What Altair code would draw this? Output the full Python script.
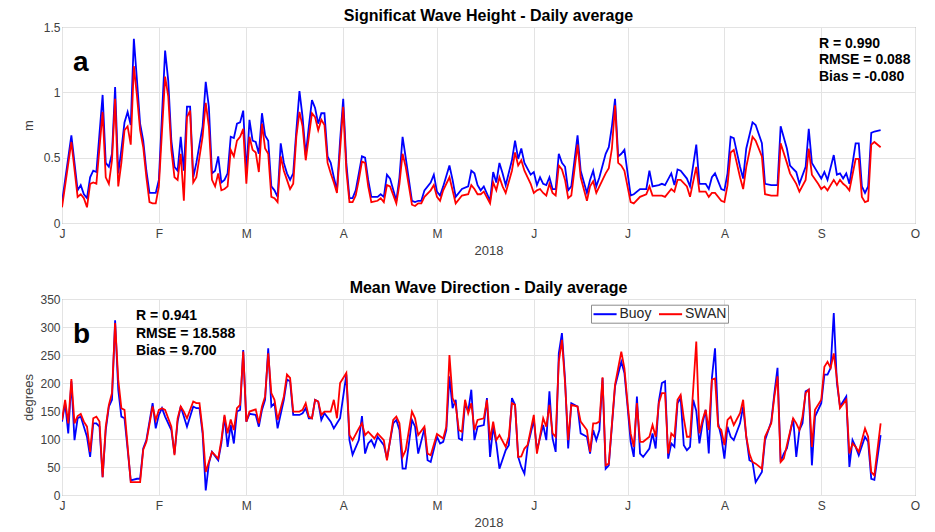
import altair as alt
import pandas as pd

# ---------------- data ----------------
# day offset from 2018-01-01
hs_day = [0,3,5,6,7,8,9,10,11,13,14,15,16,17,18,19,20,21,22,23,24,25,26,27,28,29,30,31,33,34,35,36,37,38,39,40,41,42,43,45,46,47,48,49,50,51,52,53,54,55,56,57,58,59,60,61,62,63,64,65,66,67,68,69,70,71,72,73,74,75,76,77,78,79,80,81,82,83,84,85,86,87,88,89,90,91,92,93,94,95,96,97,98,99,101,102,103,104,105,107,108,109,110,112,113,114,115,116,118,119,120,121,122,124,125,126,128,130,131,132,133,134,135,137,138,139,140,141,142,144,145,146,147,148,150,151,152,153,154,155,156,157,158,159,160,161,162,163,165,166,168,169,170,171,172,174,175,176,177,178,179,180,182,183,185,187,188,189,191,192,193,195,196,197,198,200,201,203,204,206,207,208,209,211,212,213,214,215,217,218,219,221,222,224,225,227,229,230,232,233,235,236,238,239,240,242,243,244,245,247,248,249,250,251,252,254,255,256,257,258,259,260,262]
hs_buoy = [.16,.67,.25,.29,.22,.19,.35,.40,.39,.98,.46,.43,.53,1.04,.38,.56,.77,.85,.75,1.41,1.09,.76,.63,.40,.23,.23,.23,.33,1.32,1.09,.63,.43,.40,.66,.40,.89,.89,.35,.46,.74,1.08,.89,.38,.40,.51,.31,.33,.38,.66,.65,.76,.77,.86,.38,.79,.63,.62,.53,.84,.67,.63,.28,.25,.20,.61,.46,.38,.33,.38,.71,1.01,.81,.52,.74,.94,.88,.76,.84,.84,.51,.46,.35,.25,.63,.95,.46,.19,.19,.25,.38,.51,.50,.33,.20,.20,.22,.20,.37,.34,.17,.35,.66,.50,.17,.16,.17,.17,.25,.31,.37,.24,.21,.28,.44,.33,.20,.26,.28,.40,.38,.29,.25,.28,.17,.39,.31,.46,.38,.29,.48,.63,.49,.57,.46,.37,.39,.29,.35,.30,.29,.35,.26,.26,.53,.46,.43,.25,.28,.67,.40,.23,.33,.40,.28,.35,.53,.58,.74,.95,.51,.53,.56,.21,.22,.26,.26,.40,.28,.29,.30,.29,.38,.29,.41,.40,.34,.28,.60,.30,.30,.26,.35,.38,.26,.25,.38,.66,.65,.43,.34,.57,.77,.75,.61,.30,.29,.29,.74,.57,.44,.39,.30,.43,.72,.46,.38,.34,.39,.33,.52,.37,.38,.34,.38,.30,.61,.61,.28,.23,.28,.69,.70,.71]
hs_swan = [.12,.62,.20,.22,.19,.12,.30,.31,.30,.85,.35,.30,.48,.95,.28,.46,.71,.74,.60,1.20,.97,.71,.58,.35,.16,.15,.15,.28,1.12,.97,.56,.35,.33,.53,.17,.81,.86,.31,.35,.66,.92,.74,.33,.28,.38,.25,.26,.28,.56,.51,.63,.66,.72,.30,.66,.56,.54,.39,.76,.57,.53,.20,.19,.16,.51,.40,.33,.26,.30,.66,.85,.74,.48,.66,.84,.81,.71,.79,.75,.46,.38,.31,.23,.56,.89,.40,.16,.16,.21,.33,.47,.46,.28,.16,.17,.19,.16,.29,.28,.15,.30,.53,.43,.14,.13,.15,.15,.20,.25,.29,.20,.17,.25,.35,.25,.15,.21,.22,.29,.26,.22,.22,.24,.15,.31,.25,.35,.28,.23,.40,.54,.44,.48,.40,.30,.23,.25,.26,.23,.21,.30,.23,.21,.44,.41,.33,.19,.21,.60,.35,.17,.28,.32,.23,.28,.38,.42,.57,.90,.46,.44,.40,.16,.15,.20,.22,.28,.21,.21,.21,.20,.26,.24,.33,.33,.28,.20,.43,.24,.24,.20,.23,.23,.17,.16,.29,.54,.56,.35,.26,.43,.66,.63,.51,.22,.21,.21,.61,.46,.38,.30,.24,.33,.57,.37,.30,.26,.28,.25,.33,.29,.33,.30,.28,.25,.49,.49,.20,.16,.17,.60,.62,.58]

dir_day = [0,1,2,3,4,5,6,7,8,9,10,11,12,13,14,15,16,17,18,19,20,22,24,25,26,27,29,30,31,32,33,35,36,37,38,39,40,42,43,44,45,46,47,48,50,51,52,53,54,55,56,57,58,59,60,62,63,64,65,66,67,68,69,71,72,73,74,76,77,78,79,80,81,82,83,84,86,87,88,89,91,92,93,95,96,97,98,99,100,101,103,104,106,107,108,109,110,112,113,114,116,117,118,120,121,122,123,124,125,126,127,128,129,130,131,132,133,135,136,137,138,139,140,142,143,144,145,146,147,148,149,151,152,154,155,156,157,158,159,160,161,162,163,165,166,168,169,170,171,172,173,174,175,177,179,180,181,182,183,184,185,186,188,189,190,191,192,193,194,195,196,197,198,199,200,201,202,203,204,205,206,207,208,209,210,211,212,213,214,215,217,218,219,220,221,222,224,225,227,228,229,230,231,232,234,235,236,237,238,239,240,241,243,244,245,246,247,248,249,251,252,253,254,255,257,258,259,260,262]
dir_buoy = [131,164,110,203,98,137,140,122,104,68,128,128,122,32,116,158,170,312,188,140,137,26,29,29,83,98,164,119,143,155,140,116,74,131,158,140,122,158,155,155,110,8,56,77,62,92,140,86,125,92,149,152,259,131,145,143,122,152,170,262,158,164,119,170,206,203,143,143,146,155,137,137,170,167,134,146,131,119,128,137,215,98,72,98,141,74,92,98,86,104,89,65,128,134,116,47,47,134,122,74,119,62,59,104,92,95,116,212,155,170,101,98,164,149,188,98,122,125,173,68,122,92,47,80,89,173,161,68,50,38,86,134,80,125,98,185,101,77,253,289,206,83,164,158,110,104,74,116,98,116,209,47,53,194,238,218,158,95,68,176,74,68,83,110,83,167,200,203,65,92,86,164,173,89,80,86,170,150,92,128,152,74,209,262,128,104,65,122,104,98,128,158,104,62,59,23,41,98,131,182,227,59,74,83,137,68,116,128,185,188,53,140,164,215,215,227,325,200,158,176,50,98,86,71,104,95,29,27,107]
dir_swan = [134,170,128,207,128,141,145,131,122,77,137,140,131,32,122,161,182,307,206,155,152,23,23,23,81,95,158,134,152,155,152,122,71,137,158,149,137,167,164,164,116,41,59,77,65,98,143,110,135,116,155,161,256,131,149,153,128,158,176,253,182,170,134,176,215,209,149,149,152,164,140,137,170,167,143,149,149,170,137,200,218,107,98,119,128,107,113,107,101,110,98,62,134,140,128,68,80,149,137,107,122,74,71,109,105,101,122,250,173,161,116,113,170,146,164,116,134,137,170,98,131,98,107,86,104,164,161,68,69,83,89,143,74,137,122,161,110,104,238,277,200,98,161,158,131,116,77,128,128,131,210,53,56,197,256,226,164,110,86,164,95,95,104,125,104,164,182,182,74,110,104,170,179,137,104,104,188,274,110,134,152,116,206,208,122,116,89,134,140,125,146,170,104,74,59,56,47,104,128,176,212,59,65,89,137,128,116,140,182,188,86,152,170,229,238,227,253,208,155,170,74,92,86,77,119,104,41,35,128]

series_names = ["Buoy", "SWAN"]
series_colors = ["#0000ff", "#ff0000"]
month_days = [0, 31, 59, 90, 120, 151, 181, 212, 243, 273]
month_letters = ["J", "F", "M", "A", "M", "J", "J", "A", "S", "O"]
hs_ticks = [0, 0.5, 1, 1.5]
dir_ticks = [0, 50, 100, 150, 200, 250, 300, 350]
stats_a = ["R = 0.990", "RMSE = 0.088", "Bias = -0.080"]
stats_b = ["R = 0.941", "RMSE = 18.588", "Bias = 9.700"]

for a, b in [(hs_day, hs_buoy), (hs_day, hs_swan), (dir_day, dir_buoy), (dir_day, dir_swan)]:
    if len(a) != len(b):
        raise ValueError(f"length mismatch {len(a)} vs {len(b)}")


def long_df(days, buoy, swan):
    return pd.DataFrame({
        "day": list(days) + list(days),
        "value": list(buoy) + list(swan),
        "series": ["Buoy"] * len(days) + ["SWAN"] * len(days),
    })


hs_df = long_df(hs_day, hs_buoy, hs_swan)
dir_df = long_df(dir_day, dir_buoy, dir_swan)

FONT = "Liberation Sans"
label_expr = ("[" + ",".join(f"'{m}'" for m in month_letters) + "][indexof(["
              + ",".join(str(d) for d in month_days) + "], datum.value)]")

W, H = 853, 196


def panel(df, ydom, yticks, ytitle, title, letter, stats, stats_x, stats_y, stats_lh, legend):
    x = alt.X("day:Q",
              scale=alt.Scale(domain=[0, 273], nice=False, zero=False),
              axis=alt.Axis(values=month_days, labelExpr=label_expr, title="2018",
                            labelPadding=5, titlePadding=5, labelFlush=False))
    y = alt.Y("value:Q",
              scale=alt.Scale(domain=ydom, nice=False, zero=True),
              axis=alt.Axis(values=yticks, format=".4~g", title=ytitle,
                            minExtent=25, maxExtent=25, titlePadding=2))
    color = alt.Color("series:N",
                      scale=alt.Scale(domain=series_names, range=series_colors),
                      legend=legend)
    lines = alt.Chart(df).mark_line(strokeWidth=1.8, clip=True).encode(x=x, y=y, color=color)
    st = alt.Chart(alt.Data(values=[{}])).mark_text(
        text=stats, font=FONT, fontSize=14, fontWeight="bold", align="left",
        baseline="middle", lineHeight=stats_lh, color="black"
    ).encode(x=alt.value(stats_x), y=alt.value(stats_y))
    lt = alt.Chart(alt.Data(values=[{}])).mark_text(
        text=letter, font=FONT, fontSize=28, fontWeight="bold", align="left",
        baseline="alphabetic", color="black"
    ).encode(x=alt.value(11), y=alt.value(44))
    return alt.layer(lines, st, lt).properties(
        width=W, height=H,
        title=alt.TitleParams(title, font=FONT, fontSize=16, fontWeight="bold",
                              color="black", offset=-3))


top = panel(hs_df, [0, 1.5], hs_ticks, "m", "Significat Wave Height - Daily average",
            "a", stats_a, 757, 16.7, 16.8, None)

legend_b = alt.Legend(title=None, orient="none", legendX=529, legendY=5.7,
                      direction="horizontal", symbolType="M-1,0H2.3", symbolSize=196,
                      symbolStrokeWidth=2, labelFontSize=14, labelFont=FONT,
                      labelColor="#262626", strokeColor="#8c8c8c", fillColor="white",
                      padding=1.5, labelOffset=11, columnPadding=3.5)

bottom = panel(dir_df, [0, 350], dir_ticks, "degrees", "Mean Wave Direction - Daily average",
               "b", stats_b, 74, 17.4, 17.2, legend_b)

chart = alt.vconcat(top, bottom, spacing=21).resolve_scale(color="independent").properties(
    padding={"left": 13, "top": -1, "right": 5, "bottom": 0}
).configure_view(stroke="#7a7a7a", strokeWidth=1).configure_axis(
    labelFont=FONT, titleFont=FONT, labelFontSize=12, titleFontSize=13,
    titleFontWeight="normal", labelColor="#404040", titleColor="#404040",
    gridColor="#e3e3e3", gridWidth=1, ticks=False, domain=False
)

chart.save("out.html", embed_options={"renderer": "svg", "actions": False})
